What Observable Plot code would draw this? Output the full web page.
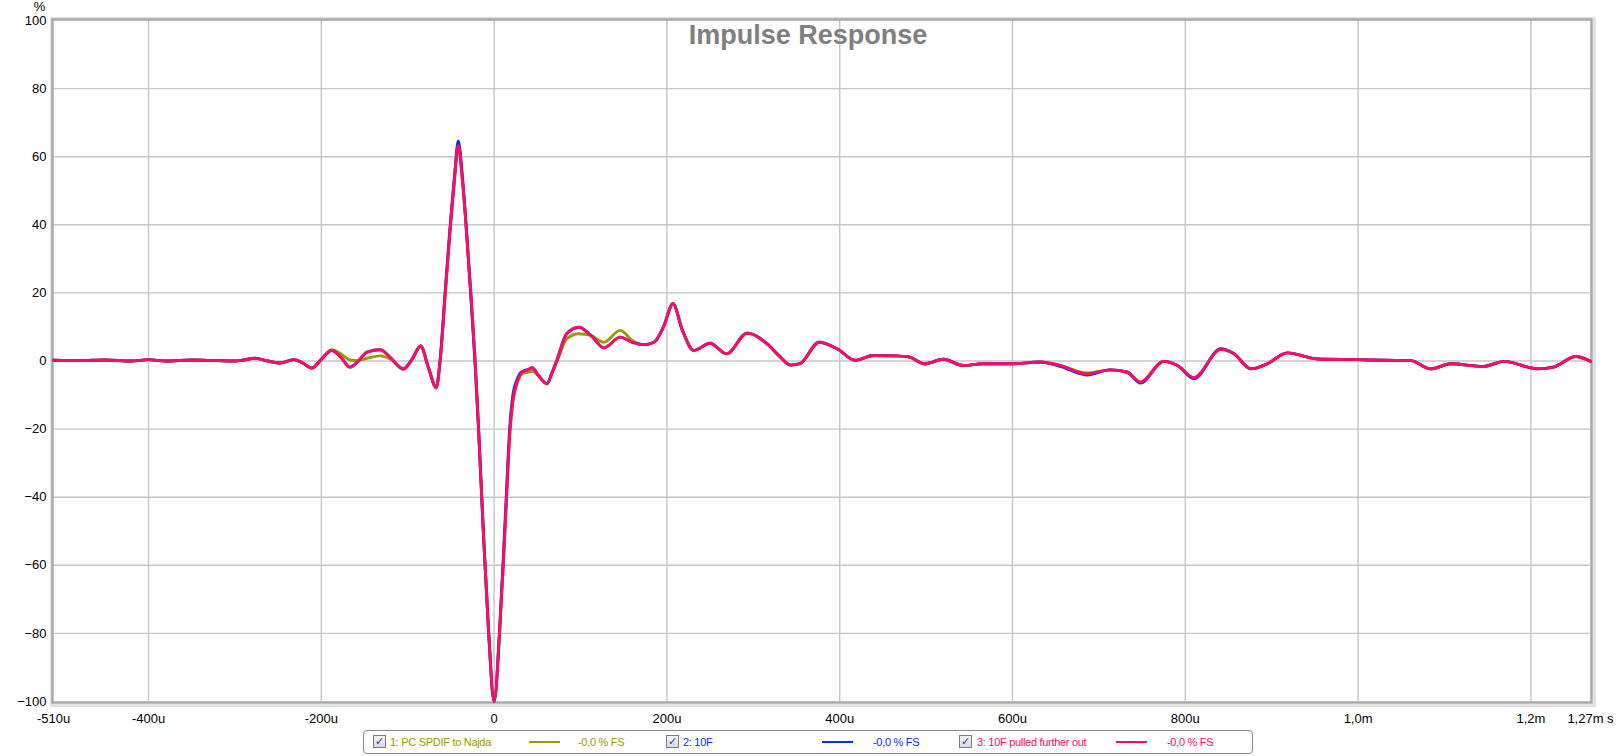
<!DOCTYPE html>
<html>
<head>
<meta charset="utf-8">
<script src="https://cdn.jsdelivr.net/npm/d3@7"></script>
<script src="https://cdn.jsdelivr.net/npm/@observablehq/plot@0.6"></script>
<style>
  html, body { margin: 0; padding: 0; background: #fff; }
  #wrap { position: relative; width: 1617px; height: 756px; font-family: "Liberation Sans", Arial, sans-serif; }
  #legend { position: absolute; left: 363px; top: 730px; width: 888px; height: 22px; border: 1px solid #8a8a8a; border-radius: 4px; background: #fff; }
  #legend .it { position: absolute; top: 0; height: 22px; line-height: 22px; font-size: 11px; letter-spacing: -0.3px; white-space: nowrap; }
  #legend .cb { position: absolute; top: 4px; width: 11px; height: 11px; border: 1px solid #7d7d7d; background: linear-gradient(#f4f4f8, #d6d9e4); font-size: 11px; line-height: 11px; text-align: center; color: #2a3f8f; font-family: "DejaVu Sans", sans-serif; font-weight: bold; }
  #legend .sw { position: absolute; top: 10px; height: 2px; }
</style>
</head>
<body>
<div id="wrap">
  <div id="chart"></div>
  <div id="legend"></div>
</div>
<script>
// ---- data (time in microseconds, amplitude in %) ----
const timeUs = [
  -510,-480,-450,-420,-400,-380,-350,-320,-300,-290,
  -277,-262,-248,-232,-222,-211,-200,-188,-177,-167,
  -159,-147,-132,-120,-105,-95,-85,-76,-67,-62.5,
  -56.5,-50.5,-46,-41.5,-37,-32.5,-27,-22,-18,-12.5,
  -6.5,0,6.5,12.5,18.5,22,26,30,34,39,
  44,52,61,67,73,84,98,112,127,146,
  160,173,185,196,207,218,231,250,269,293,
  316,330,343,354,376,397,418,439,465,480,
  498,520,543,566,601,632,655,686,713,733,
  748,775,791,810,841,856,876,895,918,953,
  999,1030,1061,1084,1107,1145,1169,1208,1226,1252,
  1269
];
const pcSpdifToNajda = [
  0.2,0.1,0.3,0.0,0.4,0.0,0.3,0.1,0.0,0.3,
  0.8,0.0,-0.6,0.4,-0.5,-2.1,0.5,3.3,2.0,0.3,
  0.1,0.8,1.5,0.5,-2.5,0.5,4.4,-2.0,-8.0,0,
  20,40,53,63.5,54,40,20,0,-20,-50,
  -79,-100,-79,-50,-20,-11.5,-7.0,-4.5,-3.5,-3.3,
  -3.0,-4.5,-6.7,-3.5,0.0,6.5,8.0,7.5,5.5,9.0,
  6.0,4.8,5.5,10,16.8,9,3.1,5.2,2.1,8.2,
  5.0,1.5,-1.2,-0.8,5.5,3.6,0.2,1.6,1.5,1.2,
  -0.8,0.5,-1.3,-0.8,-0.8,-0.3,-1.3,-3.5,-2.6,-3.3,
  -6.2,-0.1,-1.3,-4.9,3.4,2.2,-2.3,-0.8,2.4,0.6,
  0.4,0.2,0.1,-2.3,-0.8,-1.6,-0.1,-2.3,-1.8,1.3,
  -0.1
];
const tenF = [
  0.2,0.1,0.3,0.0,0.4,0.0,0.3,0.1,0.0,0.3,
  0.8,0.0,-0.6,0.4,-0.5,-2.1,0.5,3.1,1.0,-1.8,
  -0.5,2.6,3.3,1.0,-2.3,0.5,4.4,-2.0,-7.7,0.5,
  21,41,54,64.6,55,40,19,-1,-20,-50,
  -79,-100,-78,-48,-18,-9.5,-5.8,-3.6,-2.9,-2.5,
  -2.0,-4.5,-6.7,-3.5,0.5,8.0,9.9,7.5,3.9,7.0,
  5.5,4.8,5.5,10,16.8,9,3.1,5.2,2.1,8.2,
  5.0,1.5,-1.2,-0.8,5.5,3.6,0.2,1.6,1.5,1.2,
  -0.8,0.5,-1.3,-0.8,-0.8,-0.3,-1.6,-4.1,-2.6,-3.3,
  -6.5,-0.1,-1.3,-5.2,3.6,2.2,-2.3,-0.8,2.4,0.6,
  0.4,0.2,0.1,-2.3,-0.8,-1.6,-0.1,-2.3,-1.8,1.3,
  -0.1
];
const tenFPulledOut = [
  0.2,0.1,0.3,0.0,0.4,0.0,0.3,0.1,0.0,0.3,
  0.8,0.0,-0.6,0.4,-0.5,-2.1,0.5,3.1,1.0,-1.8,
  -0.5,2.6,3.3,1.0,-2.3,0.5,4.4,-2.0,-7.7,0,
  20,40,53,63.3,54,40,20,0,-20,-50,
  -79,-100,-79,-50,-20,-11,-6.7,-4.0,-3.0,-2.7,
  -2.0,-4.5,-6.7,-3.5,0.5,8.0,9.9,7.5,3.9,7.0,
  5.5,4.8,5.5,10,16.8,9,3.1,5.2,2.1,8.2,
  5.0,1.5,-1.2,-0.8,5.5,3.6,0.2,1.6,1.5,1.2,
  -0.8,0.5,-1.3,-0.8,-0.8,-0.3,-1.3,-3.8,-2.6,-3.3,
  -6.2,-0.1,-1.3,-4.9,3.4,2.2,-2.3,-0.8,2.4,0.6,
  0.4,0.2,0.1,-2.3,-0.8,-1.6,-0.1,-2.3,-1.8,1.3,
  -0.1
];
const seriesNames = ["1: PC SPDIF to Najda", "2: 10F", "3: 10F pulled further out"];
const seriesColors = ["#9a9a00", "#0a2dff", "#ff0a64"];
const seriesLevels = ["-0,0 % FS", "-0,0 % FS", "-0,0 % FS"];
const xTickValues = [-510, -400, -200, 0, 200, 400, 600, 800, 1000, 1200, 1269];
const xTickLabels = ["-510u", "-400u", "-200u", "0", "200u", "400u", "600u", "800u", "1,0m", "1,2m", "1,27m s"];
const xGrid = [-400, -200, 0, 200, 400, 600, 800, 1000, 1200];
const yTickValues = [-100, -80, -60, -40, -20, 0, 20, 40, 60, 80, 100];
const yGrid = [-80, -60, -40, -20, 0, 20, 40, 60, 80];
const chartTitle = "Impulse Response";
const yUnit = "%";

// ---- build ----
const allSeries = [pcSpdifToNajda, tenF, tenFPulledOut];
const rowsFor = (vals) => timeUs.map((t, i) => ({t, v: vals[i]}));
const xLabel = new Map(xTickValues.map((d, i) => [d, xTickLabels[i]]));

const chart = Plot.plot({
  width: 1617,
  height: 728,
  marginTop: 20,
  marginBottom: 27,
  marginLeft: 53,
  marginRight: 27,
  x: {domain: [-510, 1269]},
  y: {domain: [-100, 100]},
  style: {fontFamily: "'Liberation Sans', Arial, sans-serif", fontSize: "13px", color: "#000", background: "#fff"},
  marks: [
    Plot.ruleX(xGrid, {stroke: "#c6c6c6", strokeWidth: 1.4}),
    Plot.ruleY(yGrid, {stroke: "#c6c6c6", strokeWidth: 1.4}),
    Plot.frame({stroke: "#e2e2e2", strokeWidth: 3, inset: -3, dx: 1, dy: 1}),
    Plot.frame({stroke: "#a9a9a9", strokeWidth: 2.5, inset: -1}),
    ...allSeries.map((vals, k) => Plot.line(rowsFor(vals), {
      x: "t", y: "v", stroke: seriesColors[k], strokeWidth: 2.9, curve: "monotone-x"
    })),
    Plot.axisX({ticks: xTickValues, tickFormat: (d) => xLabel.get(d), tickSize: 0, tickPadding: 12, fontSize: 13, label: null}),
    Plot.axisY({ticks: yTickValues, tickSize: 0, tickPadding: 7, fontSize: 13, label: null}),
    Plot.text([chartTitle], {frameAnchor: "top", dx: -14, dy: 15, lineAnchor: "middle", fontSize: 27, fontWeight: "bold", fill: "#808080"}),
    Plot.text([yUnit], {frameAnchor: "top-left", dx: -14, dy: -14, lineAnchor: "middle", textAnchor: "middle", fontSize: 13, fill: "#000"})
  ]
});
document.getElementById("chart").appendChild(chart);

// ---- legend ----
const legend = document.getElementById("legend");
const cbLeft = [9, 302, 595];
const textLeft = [26, 319, 613];
const swLeft = [165, 458, 752];
const lvlLeft = [214, 509, 803];
seriesNames.forEach((name, k) => {
  const cb = document.createElement("span");
  cb.className = "cb"; cb.style.left = cbLeft[k] + "px"; cb.textContent = "\u2713";
  legend.appendChild(cb);
  const tx = document.createElement("span");
  tx.className = "it"; tx.style.left = textLeft[k] + "px"; tx.style.color = seriesColors[k]; tx.textContent = name;
  legend.appendChild(tx);
  const sw = document.createElement("span");
  sw.className = "sw"; sw.style.left = swLeft[k] + "px"; sw.style.width = "31px"; sw.style.background = seriesColors[k];
  legend.appendChild(sw);
  const lv = document.createElement("span");
  lv.className = "it"; lv.style.left = lvlLeft[k] + "px"; lv.style.color = seriesColors[k]; lv.textContent = seriesLevels[k];
  legend.appendChild(lv);
});
</script>
</body>
</html>
